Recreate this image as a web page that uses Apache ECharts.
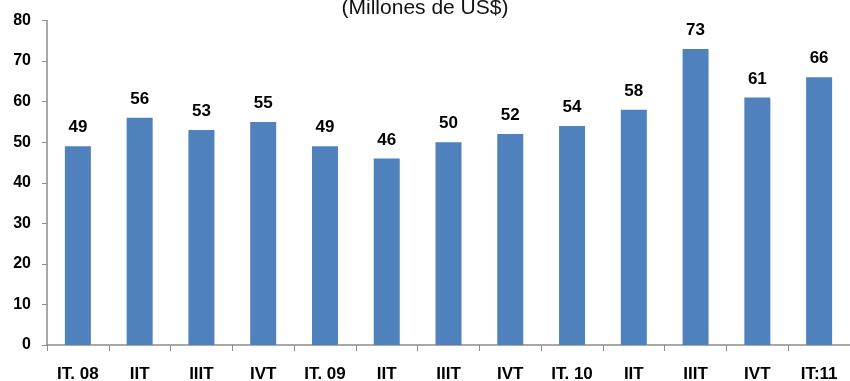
<!DOCTYPE html>
<html>
<head>
<meta charset="utf-8">
<script src="https://cdn.jsdelivr.net/npm/echarts@6/dist/echarts.min.js"></script>
<style>
  html, body { margin: 0; padding: 0; background: #fff; }
  #chart { width: 850px; height: 381px; }
</style>
</head>
<body>
<div id="chart"></div>
<script>
// Quarterly amounts, millions of US$
const quarters = ["IT. 08", "IIT", "IIIT", "IVT", "IT. 09", "IIT", "IIIT", "IVT", "IT. 10", "IIT", "IIIT", "IVT", "IT:11"];
const amounts = [49, 56, 53, 55, 49, 46, 50, 52, 54, 58, 73, 61, 66];
const yTicks = { min: 0, max: 80, step: 10 };

const chart = echarts.init(document.getElementById('chart'), null, { renderer: 'canvas' });
const font = '"Liberation Sans", Arial, sans-serif';
const axisGray = '#8c8c8c';

chart.setOption({
  animation: false,
  backgroundColor: '#ffffff',
  title: {
    text: '(Millones de US$)',
    left: 'center',
    top: -7,
    textStyle: { fontFamily: font, fontSize: 21, fontWeight: 'normal', color: '#111' }
  },
  grid: { left: 47, right: 0, top: 20.5, bottom: 36, containLabel: false, outerBoundsMode: 'none' },
  xAxis: {
    type: 'category',
    data: quarters,
    axisLine: { lineStyle: { color: axisGray, width: 1.5 } },
    axisTick: { show: true, length: 6, lineStyle: { color: axisGray } },
    axisLabel: { margin: 21, color: '#000', fontFamily: font, fontSize: 17, fontWeight: 'bold', interval: 0 }
  },
  yAxis: {
    type: 'value',
    min: yTicks.min,
    max: yTicks.max,
    interval: yTicks.step,
    splitLine: { show: false },
    axisLine: { show: true, lineStyle: { color: axisGray, width: 1.5 } },
    axisTick: { show: true, length: 5, lineStyle: { color: axisGray } },
    axisLabel: { margin: 16, color: '#000', fontFamily: font, fontSize: 16, fontWeight: 'bold' }
  },
  series: [{
    type: 'bar',
    data: amounts,
    barWidth: 26,
    itemStyle: { color: '#4F81BD' },
    label: {
      show: true,
      position: 'top',
      distance: 10,
      color: '#000',
      fontFamily: font,
      fontSize: 17,
      fontWeight: 'bold'
    }
  }]
});
</script>
</body>
</html>
